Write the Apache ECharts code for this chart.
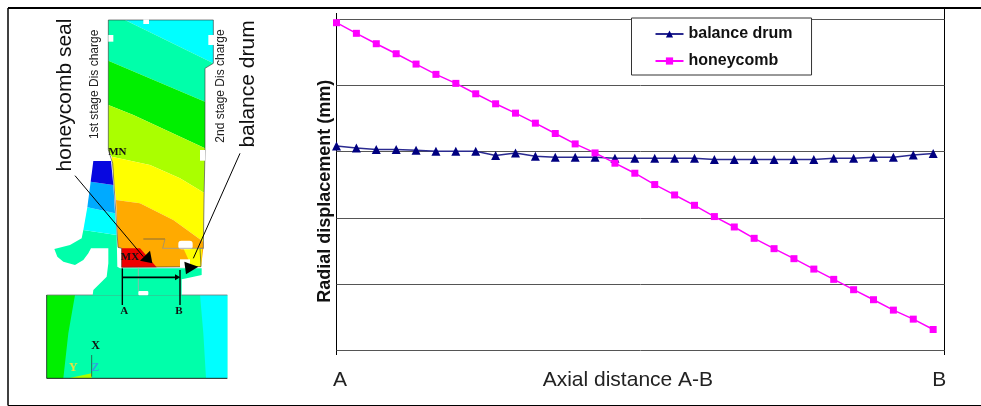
<!DOCTYPE html>
<html><head><meta charset="utf-8">
<style>html,body{margin:0;padding:0;background:#fff}#c{width:981px;height:406px}</style>
<script src="https://cdn.jsdelivr.net/npm/echarts@6/dist/echarts.min.js"></script>
</head><body><div id="c"></div>
<script>
const seriesNames = ['balance drum', 'honeycomb'];
const axialStations = [0,1,2,3,4,5,6,7,8,9,10,11,12,13,14,15,16,17,18,19,20,21,22,23,24,25,26,27,28,29,30];
const balanceDrum = [3.086,3.056,3.032,3.032,3.021,3.006,3.006,3.006,2.941,2.98,2.931,2.915,2.915,2.915,2.9,2.9,2.9,2.9,2.9,2.881,2.881,2.881,2.881,2.881,2.881,2.9,2.9,2.915,2.915,2.95,2.971];
const honeycomb = [4.944,4.784,4.627,4.476,4.32,4.165,4.029,3.872,3.721,3.58,3.429,3.273,3.116,2.98,2.825,2.674,2.503,2.346,2.19,2.02,1.863,1.692,1.536,1.385,1.228,1.073,0.917,0.766,0.609,0.473,0.317];
const xLabels = ['A', 'Axial distance A-B', 'B'];
const xLabelAt = [0.18, 14.65, 30.3];
const yTitle = 'Radial displacement (mm)';

// ---- illustration (finite-element contour picture), coordinates in 3x crop space
const g = [];
const S = a => a.map(p => [p[0] / 3, p[1] / 3]);
const poly = (pts, fill, stroke, lw) => g.push({type:'polygon', silent:true, shape:{points:S(pts)}, style:{fill:fill||'none', stroke:stroke||null, lineWidth:lw||0}});
const line = (x1,y1,x2,y2,c,w) => g.push({type:'line', silent:true, shape:{x1:x1/3,y1:y1/3,x2:x2/3,y2:y2/3}, style:{stroke:c,lineWidth:w}});
const hole = (x1,y1,x2,y2,r) => g.push({type:'rect', silent:true, shape:{x:x1/3,y:y1/3,width:(x2-x1)/3,height:(y2-y1)/3,r:r||0}, style:{fill:'#fff'}});
const txt = (t,x,y,size,opt) => g.push({type:'text', silent:true, x:x/3, y:y/3, rotation:(opt&&opt.rot)||0, style:Object.assign({text:t, fontSize:size, fontFamily:'Liberation Sans', fill:'#111', align:'center', verticalAlign:'middle'}, opt&&opt.st)});

const AQ='#00ffaa', GR='#00f000', LI='#aaff00', YE='#ffff00', OR='#ffaa00', RE='#ee0000', CY='#00ffff', AZ='#00aaff', BL='#0808e0';

// frame
g.push({type:'line',silent:true,shape:{x1:8,y1:8,x2:981,y2:8},style:{stroke:'#000',lineWidth:2}});
g.push({type:'line',silent:true,shape:{x1:8,y1:405.5,x2:981,y2:405.5},style:{stroke:'#000',lineWidth:1.2}});
g.push({type:'line',silent:true,shape:{x1:8,y1:8,x2:8,y2:405.5},style:{stroke:'#000',lineWidth:1.5}});
g.push({type:'line',silent:true,shape:{x1:944.5,y1:8,x2:944.5,y2:355},style:{stroke:'#000',lineWidth:1}});
g.push({type:'line',silent:true,shape:{x1:336.5,y1:13,x2:336.5,y2:355},style:{stroke:'#000',lineWidth:1}});

// rotor drum
poly([[140,885],[682,885],[682,1135],[140,1135]], AQ);
poly([[140,885],[225,885],[205,1000],[190,1135],[140,1135]], GR);
poly([[600,885],[682,885],[682,1135],[618,1135],[610,1000]], CY);
poly([[205,1135],[275,1120],[275,1135]], LI);
line(140,885,682,885,'#777',0.8); line(140,1135,682,1135,'#222',1); line(140,885,140,1135,'#222',0.8);
// stator and connecting web
poly([[250,690],[350,705],[352,800],[360,805],[605,805],[605,825],[560,835],[545,838],[545,886],[278,886],[280,870],[305,845],[320,830],[325,790],[325,745],[273,745],[265,760],[250,780],[225,795],[190,785],[172,770],[163,747],[210,735],[245,715]], AQ);
poly([[262,622],[345,640],[350,705],[250,690]], CY);
poly([[272,545],[340,555],[345,640],[262,622]], AZ);
poly([[280,483],[333,483],[340,555],[272,545]], BL);
// blade contour bands
poly([[375,60],[640,60],[640,190]], CY);
poly([[325,60],[375,60],[640,190],[615,205],[615,305],[325,182]], AQ);
poly([[325,182],[615,305],[615,445],[400,345],[325,315]], GR);
poly([[325,315],[400,345],[615,445],[612,578],[540,535],[450,495],[335,470],[325,450]], LI);
poly([[335,470],[450,495],[540,535],[612,578],[610,725],[520,660],[420,610],[348,600]], YE);
poly([[348,600],[420,610],[520,660],[610,725],[610,745],[603,800],[365,802],[365,745],[354,742]], OR);
poly([[550,745],[606,745],[603,800],[575,800]], YE);
poly([[365,745],[420,745],[470,802],[365,802]], RE);
poly([[325,60],[640,60],[640,190],[615,205],[615,450],[612,600],[610,745],[600,745],[603,800],[365,802],[365,745],[354,742],[338,490],[325,450]], null, '#333', 0.6);
// slots and holes
hole(430,58,447,72); hole(325,105,340,125); hole(625,105,642,135); hole(600,450,615,482);
hole(535,722,578,748,3); hole(540,778,570,803); hole(415,873,445,886,1);
line(430,717,495,717,'#555',0.7); line(495,717,488,745,'#888',0.7); line(488,745,610,745,'#999',0.8); line(415,803,415,873,'#aaa',0.8);
// dimension A-B
line(367,805,367,915,'#000',1.4); line(540,810,540,915,'#000',1.4); line(367,832,530,832,'#000',1.6);
poly([[525,823],[541,832],[525,841]], '#000');
line(275,1065,275,1130,'#333',0.7);
// leader arrows
line(225,527,430,770,'#000',1); poly([[420,782],[450,752],[457,790]], '#000');
line(720,460,580,775,'#000',1); poly([[553,785],[595,800],[558,823]], '#000');

const serif = {fontFamily:'Liberation Serif', fontWeight:'bold'};
txt('MN',352,457,11,{st:serif}); txt('MX',390,772,11,{st:serif});
txt('A',373,933,11,{st:serif}); txt('B',537,933,11,{st:serif});
txt('X',287,1038,12,{st:serif});
txt('Y',220,1105,12,{st:Object.assign({},serif,{fill:'#e8e040'})});
txt('Z',286,1105,12,{st:Object.assign({},serif,{fill:'#30a0e0'})});
const R = Math.PI/2;
txt('honeycomb seal',195,285,21,{rot:R});
txt('balance drum',745,252,21,{rot:R});
txt('1st stage Dis charge',285,253,12,{rot:R,st:{fill:'#222'}});
txt('2nd stage Dis charge',662,258,12,{rot:R,st:{fill:'#222'}});

const chart = echarts.init(document.getElementById('c'), null, {renderer:'canvas'});
chart.setOption({
  animation:false,
  graphic:{elements:g},
  grid:{left:336.5, right:36.5, top:19, height:331.5},
  legend:{
    show:true, orient:'vertical', left:631.5, top:18, padding:[8,19,6,23], itemGap:11,
    itemWidth:28, itemHeight:9, backgroundColor:'#fff', borderColor:'#333', borderWidth:1, z:20,
    textStyle:{fontFamily:'Liberation Sans', fontWeight:'bold', fontSize:16, color:'#111'},
    data:seriesNames
  },
  xAxis:{type:'value', min:0, max:30.57, axisLine:{show:false}, axisTick:{show:false}, splitLine:{show:false},
    axisLabel:{show:true, customValues:xLabelAt, margin:19, fontFamily:'Liberation Sans', fontSize:21, color:'#222',
      formatter:v => xLabels[xLabelAt.indexOf(v)], hideOverlap:false, alignMinLabel:'center', alignMaxLabel:'center'}},
  yAxis:{type:'value', min:0, max:5, interval:1, axisLabel:{show:false}, axisTick:{show:false}, axisLine:{show:false},
    splitLine:{show:true, lineStyle:{color:'#555', width:1}},
    name:yTitle, nameLocation:'middle', nameGap:2, nameRotate:90,
    nameTextStyle:{fontFamily:'Liberation Sans', fontWeight:'bold', fontSize:18, color:'#111', padding:[0,13,0,0]}},
  series:[
    {name:seriesNames[0], type:'line', symbol:'triangle', symbolSize:9, z:3,
     data:axialStations.map((x,i)=>[x,balanceDrum[i]]), itemStyle:{color:'#000080'}, lineStyle:{color:'#2a2a90',width:1.5}},
    {name:seriesNames[1], type:'line', symbol:'rect', symbolSize:7, z:4,
     data:axialStations.map((x,i)=>[x,honeycomb[i]]), itemStyle:{color:'#ff00ff'}, lineStyle:{color:'#ff00ff',width:1.5}}
  ]
});
</script></body></html>
